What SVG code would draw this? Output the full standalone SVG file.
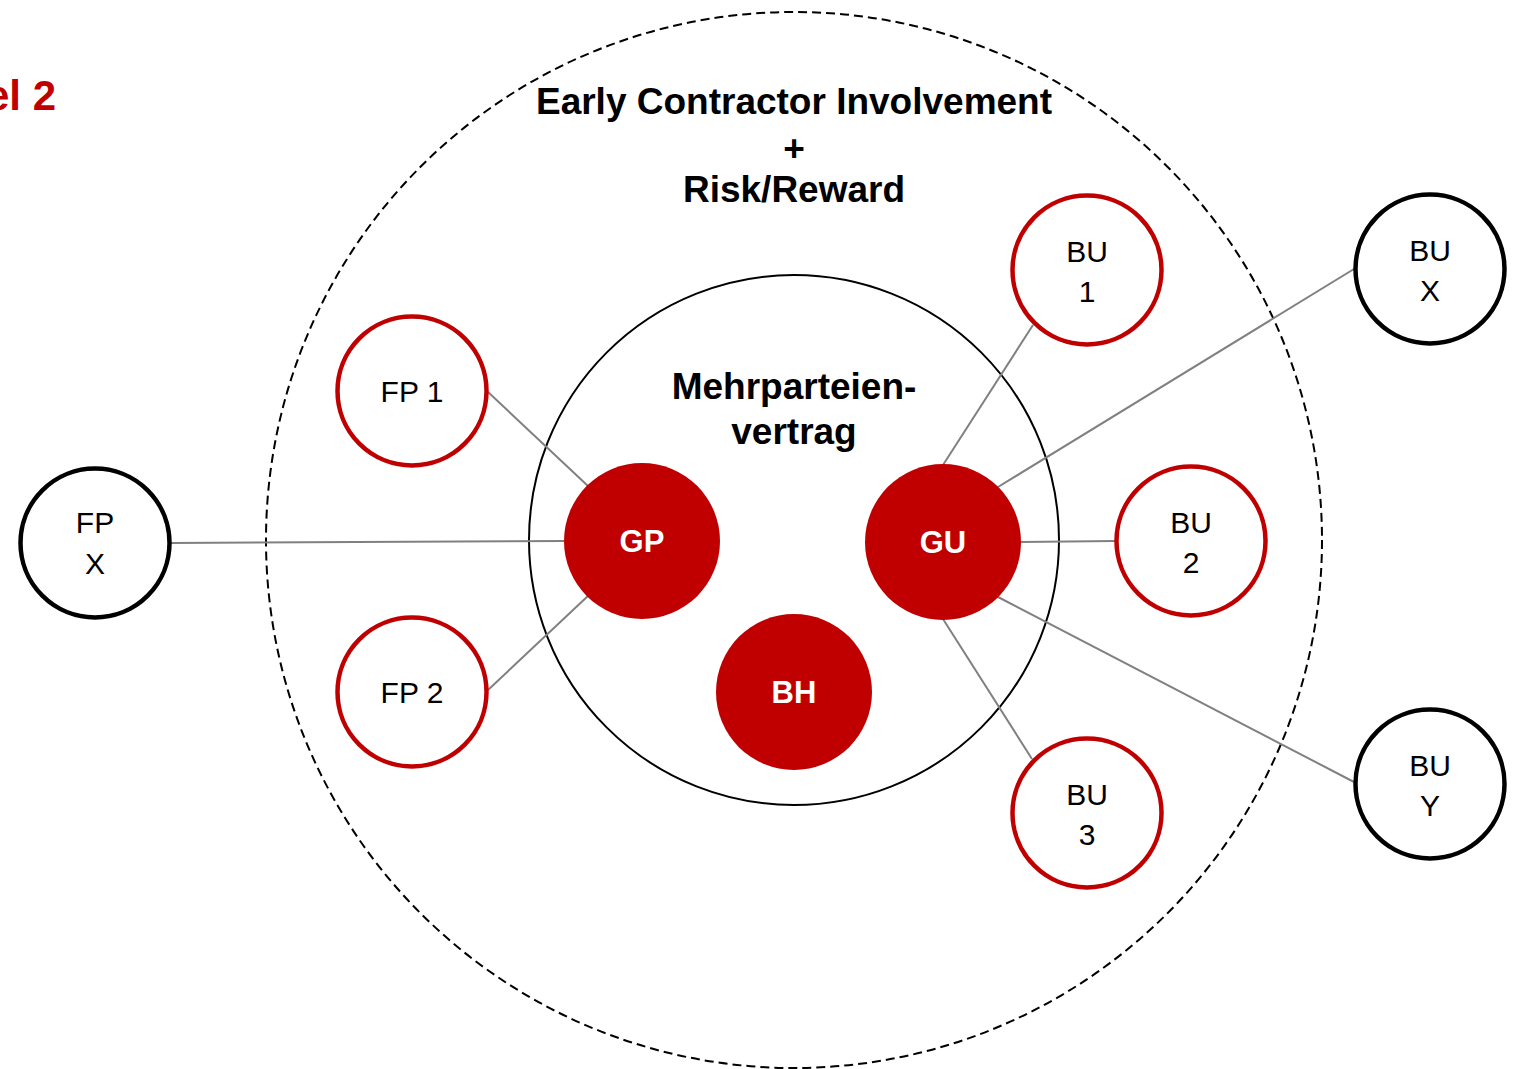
<svg xmlns="http://www.w3.org/2000/svg" width="1521" height="1069" viewBox="0 0 1521 1069">
<style>
text{font-family:"Liberation Sans",Arial,Helvetica,sans-serif}
.red{fill:#fff;stroke:#C00000;stroke-width:4.5}
.blk{fill:#fff;stroke:#000;stroke-width:4.5}
.solid{fill:#C00000;stroke:none}
.lbl{font-size:30px;fill:#000;text-anchor:middle}
.wlbl{font-size:31px;font-weight:bold;fill:#fff;text-anchor:middle}
.title{font-size:37px;font-weight:bold;fill:#000;text-anchor:middle}
.conn line{stroke:#808080;stroke-width:2}
</style>
<rect width="1521" height="1069" fill="#fff"/>
<text x="56" y="110" style="font-size:42px;font-weight:bold;fill:#C00000;text-anchor:end">el 2</text>
<g id="eci">
<circle cx="794" cy="540" r="528" fill="none" stroke="#000" stroke-width="2" stroke-dasharray="9 5"/>
<text class="title" x="794" y="114">Early Contractor Involvement</text>
<text class="title" x="794" y="161">+</text>
<text class="title" x="794" y="202">Risk/Reward</text>
</g>
<g id="mpv">
<circle cx="794" cy="540" r="265" fill="none" stroke="#000" stroke-width="2"/>
<text class="title" x="794" y="399">Mehrparteien-</text>
<text class="title" x="794" y="444">vertrag</text>
</g>
<g class="conn" id="connectors">
<line x1="488" y1="392" x2="588" y2="486"/>
<line x1="488" y1="690" x2="589" y2="595"/>
<line x1="171" y1="543" x2="564" y2="541"/>
<line x1="943" y1="465" x2="1033" y2="325"/>
<line x1="998" y1="487" x2="1354" y2="269"/>
<line x1="1021" y1="542" x2="1115" y2="541"/>
<line x1="998" y1="597" x2="1354" y2="782"/>
<line x1="943" y1="619" x2="1032" y2="759"/>
</g>
<g id="gp"><circle class="solid" cx="642" cy="541" r="78"/><text class="wlbl" x="642" y="552">GP</text></g>
<g id="gu"><circle class="solid" cx="943" cy="542" r="78"/><text class="wlbl" x="943" y="553">GU</text></g>
<g id="bh"><circle class="solid" cx="794" cy="692" r="78"/><text class="wlbl" x="794" y="703">BH</text></g>
<g id="fp1"><circle class="red" cx="412" cy="391" r="74.5"/><text class="lbl" x="412" y="402">FP 1</text></g>
<g id="fp2"><circle class="red" cx="412" cy="692" r="74.5"/><text class="lbl" x="412" y="703">FP 2</text></g>
<g id="fpx"><circle class="blk" cx="95" cy="543" r="74.5"/><text class="lbl" x="95" y="533">FP</text><text class="lbl" x="95" y="574">X</text></g>
<g id="bu1"><circle class="red" cx="1087" cy="270" r="74.5"/><text class="lbl" x="1087" y="262">BU</text><text class="lbl" x="1087" y="302">1</text></g>
<g id="bu2"><circle class="red" cx="1191" cy="541" r="74.5"/><text class="lbl" x="1191" y="533">BU</text><text class="lbl" x="1191" y="573">2</text></g>
<g id="bu3"><circle class="red" cx="1087" cy="813" r="74.5"/><text class="lbl" x="1087" y="805">BU</text><text class="lbl" x="1087" y="845">3</text></g>
<g id="bux"><circle class="blk" cx="1430" cy="269" r="74.5"/><text class="lbl" x="1430" y="261">BU</text><text class="lbl" x="1430" y="301">X</text></g>
<g id="buy"><circle class="blk" cx="1430" cy="784" r="74.5"/><text class="lbl" x="1430" y="776">BU</text><text class="lbl" x="1430" y="816">Y</text></g>
</svg>
